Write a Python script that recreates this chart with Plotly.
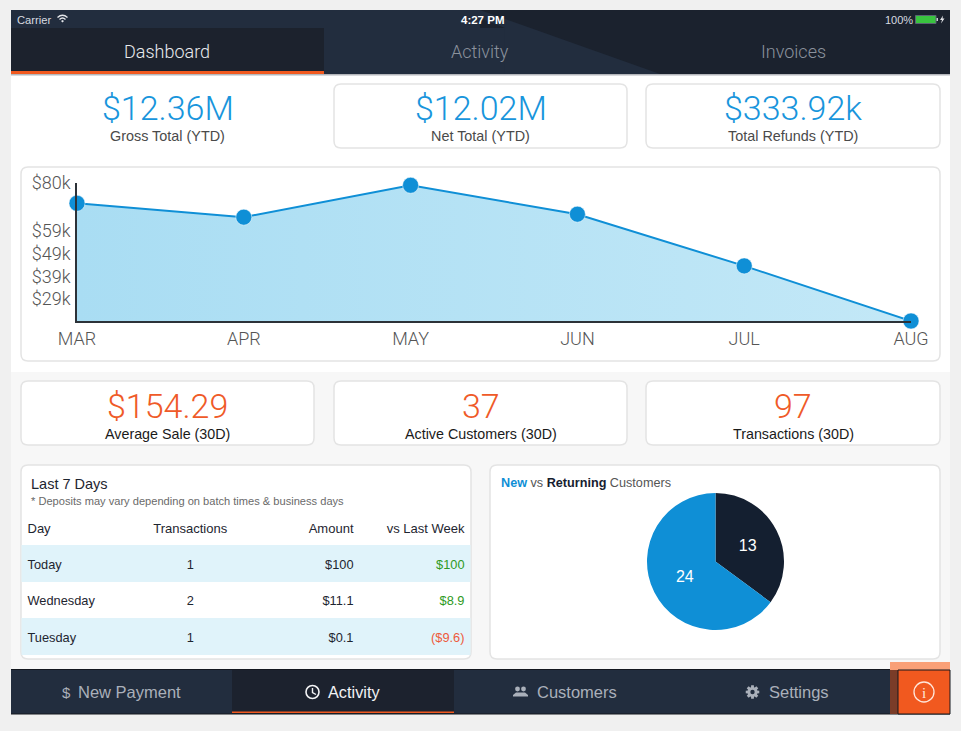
import math
import plotly.graph_objects as go

W = 961
H = 731

# area chart
months = ["MAR", "APR", "MAY", "JUN", "JUL", "AUG"]
sales_k = [71.1, 65.0, 79.0, 66.3, 43.6, 19.4]
y_ticks = [80, 59, 49, 39, 29]
y_labels = ["$80k", "$59k", "$49k", "$39k", "$29k"]

# stat cards
top_values = ["$12.36M", "$12.02M", "$333.92k"]
top_labels = ["Gross Total (YTD)", "Net Total (YTD)", "Total Refunds (YTD)"]
mid_values = ["$154.29", "37", "97"]
mid_labels = ["Average Sale (30D)", "Active Customers (30D)", "Transactions (30D)"]

# table
col_names = ["Day", "Transactions", "Amount", "vs Last Week"]
days = ["Today", "Wednesday", "Tuesday"]
transactions = ["1", "2", "1"]
amounts = ["$100", "$11.1", "$0.1"]
vs_last_week = ["$100", "$8.9", "($9.6)"]
vs_colors = ["#2e9a24", "#2e9a24", "#ee5a3c"]

# pie
pie_names = ["Returning", "New"]
pie_values = [13, 24]

LIGHT = "Roboto"
SANS = "Liberation Sans"
BLUE = "#0f8fd6"
ORANGE = "#f1591f"
NAVY = "#222d3e"
DARK = "#1b222e"
NAV_TEXT = "#aab0ba"


def px(x):
    return x / W


def py(y):
    return 1 - y / H


shapes = []
notes = []


def rect(x0, y0, x1, y1, fill, line=None, width=1):
    shapes.append(dict(type="rect", xref="paper", yref="paper", layer="below",
                       x0=px(x0), x1=px(x1), y0=py(y0), y1=py(y1), fillcolor=fill,
                       line=dict(color=line, width=width) if line else dict(width=0)))


def poly(points, fill=None, line=None, width=1, close=True, layer="above"):
    path = "M" + " L".join(f"{px(a):.5f},{py(b):.5f}" for a, b in points)
    if close:
        path += " Z"
    shapes.append(dict(type="path", xref="paper", yref="paper", layer=layer, path=path,
                       fillcolor=fill if fill else "rgba(0,0,0,0)",
                       line=dict(color=line, width=width) if line else dict(width=0)))


def circle(cx, cy, r, fill=None, line=None, width=1):
    shapes.append(dict(type="circle", xref="paper", yref="paper", x0=px(cx - r), x1=px(cx + r),
                       y0=py(cy + r), y1=py(cy - r), fillcolor=fill if fill else "rgba(0,0,0,0)",
                       line=dict(color=line, width=width) if line else dict(width=0)))


def arc(x0, x1, y_end, y_ctrl, color, width=1.4):
    mid = (x0 + x1) / 2
    p = f"M{px(x0)},{py(y_end)} Q{px(mid)},{py(y_ctrl)} {px(x1)},{py(y_end)}"
    shapes.append(dict(type="path", xref="paper", yref="paper", path=p, line=dict(color=color, width=width)))


def card(x0, y0, x1, y1, r=7, line="#e4e4e4"):
    p = (f"M{px(x0 + r)},{py(y0)} L{px(x1 - r)},{py(y0)} Q{px(x1)},{py(y0)} {px(x1)},{py(y0 + r)} "
         f"L{px(x1)},{py(y1 - r)} Q{px(x1)},{py(y1)} {px(x1 - r)},{py(y1)} "
         f"L{px(x0 + r)},{py(y1)} Q{px(x0)},{py(y1)} {px(x0)},{py(y1 - r)} "
         f"L{px(x0)},{py(y0 + r)} Q{px(x0)},{py(y0)} {px(x0 + r)},{py(y0)} Z")
    shapes.append(dict(type="path", xref="paper", yref="paper", layer="below", path=p,
                       fillcolor="white", line=dict(color=line, width=1.5)))


def text(x, y, s, size, color, family=SANS, anchor="center", weight=None):
    notes.append(dict(x=px(x), y=py(y), xref="paper", yref="paper", text=s, showarrow=False,
                      xanchor=anchor, yanchor="middle", align=anchor,
                      font=dict(size=size, color=color, family=family, weight=weight)))


# page + header background
rect(11, 75, 950, 372, "white")
rect(11, 372, 950, 669, "#f7f7f7")
rect(11, 10, 950, 75, DARK)
rect(11, 10, 480, 28, NAVY)
rect(324, 28, 505, 74, NAVY)
poly([(480, 10), (480, 18), (505, 28), (505, 74), (660, 74)], fill=NAVY, layer="below")
rect(11, 28, 324, 71, "#1c222d")
rect(11, 71, 324, 74, ORANGE)
rect(11, 74, 950, 75.5, "#b4b6bb")

# status bar
text(15, 19.5, "Carrier", 11.2, "#d8dbe0", anchor="left")
text(483, 19.5, "4:27 PM", 11.5, "#ffffff", weight=700)
text(899, 19.5, "100%", 11, "#d8dbe0")
rect(915.5, 15.5, 936, 23.5, "#39c43f", line="#5a6472", width=1)
rect(936.5, 18, 938, 21, "#c8ccd2")
poly([(943, 15.5), (940, 20), (942, 20), (941, 23.5), (944.5, 18.5), (942.5, 18.5)], fill="#e4e6ea")
arc(57.5, 67.5, 17.5, 13, "#e4e6ea")
arc(59.5, 65.5, 19.5, 16.5, "#e4e6ea")
poly([(61, 21), (62.5, 20), (64, 21), (62.5, 22.5)], fill="#e4e6ea")

# tabs
text(167, 52, "Dashboard", 18, "#e8eaee", LIGHT, weight=300)
text(480, 52, "Activity", 18, "#8b929d", LIGHT, weight=300)
text(793, 52, "Invoices", 18, "#8b929d", LIGHT, weight=300)

# stat cards
xs = [(21, 314), (334, 627), (646, 940)]
for i, (a, b) in enumerate(xs):
    if i == 0:
        card(a, 84, b, 148, line="#ffffff")
    else:
        card(a, 84, b, 148)
    text((a + b) / 2, 108, top_values[i], 34, "#1895dc", LIGHT, weight=300)
    text((a + b) / 2, 136, top_labels[i], 14.4, "#4a4a4a")
    card(a, 381, b, 445)
    text((a + b) / 2, 406, mid_values[i], 34, "#ef5a28", LIGHT, weight=300)
    text((a + b) / 2, 433.5, mid_labels[i], 14.3, "#1a1a1a")

# panels
card(21, 167, 940, 361)
card(21, 465, 471, 659)
card(490, 465, 940, 659)
text(29, 484, "Last 7 Days", 14.5, "#1e2530", anchor="left")
text(29, 501, "* Deposits may vary depending on batch times &amp; business days", 11.1, "#6a6a6a", anchor="left")
text(499, 483, "<span style='color:#0f8fd6'><b>New</b></span> vs "
     "<span style='color:#16202f'><b>Returning</b></span> Customers", 12.65, "#555555", anchor="left")
rect(21.5, 545, 470.5, 582, "#e0f3fa")
rect(21.5, 618, 470.5, 655, "#e0f3fa")

# bottom nav
rect(11, 669, 950, 670, "#14181f")
rect(11, 670, 950, 714, NAVY)
rect(232, 670, 454, 714, "#1c222e")
rect(232, 711.5, 454, 713, ORANGE)
rect(11, 713.5, 950, 714.5, "#14181f")
text(66, 692, "$", 15, NAV_TEXT)
text(129.5, 692, "New Payment", 16.5, NAV_TEXT)
text(354, 692, "Activity", 16.3, "#f2f3f5")
text(577, 692, "Customers", 16.5, NAV_TEXT)
text(798.5, 692, "Settings", 16.5, NAV_TEXT)

# gear icon
gear = []
for k in range(8):
    t = k * math.pi / 4
    for off, r in [(-0.30, 5.0), (-0.20, 6.9), (0.20, 6.9), (0.30, 5.0)]:
        gear.append((752.5 + r * math.cos(t + off), 692 + r * math.sin(t + off)))
poly(gear, fill=NAV_TEXT)
circle(752.5, 692, 2.2, fill=NAVY)

# clock icon
circle(312.5, 692, 6.5, line="#f2f3f5", width=1.6)
poly([(312.5, 688), (312.5, 692.5), (316, 694.5)], line="#f2f3f5", width=1.4, close=False)

# people icon
circle(517.5, 689, 2.4, fill=NAV_TEXT)
circle(523.5, 689, 2.4, fill=NAV_TEXT)
poly([(513, 696.5), (513, 695), (516, 692.5), (525, 692.5), (528, 695), (528, 696.5)], fill=NAV_TEXT)

# info button
rect(890, 662, 950, 670, "#f9a077")
rect(890, 670, 898, 714, "#7a3c28")
rect(898, 670, 950, 714, ORANGE, line="#14181f", width=1)
circle(924, 692, 10, line="#ffe6da", width=1.3)
text(924, 692.5, "i", 15, "#ffe6da", "Liberation Serif")

fig = go.Figure()
# area, clipped to the plot box
fig.add_trace(go.Scatter(x=months, y=sales_k, mode="none", fill="tozeroy",
                         fillgradient=dict(type="horizontal",
                                           colorscale=[[0, "#a9ddf3"], [1, "#c3e8f7"]]),
                         hoverinfo="skip", showlegend=False))
fig.add_trace(go.Scatter(x=months, y=sales_k, mode="lines+markers", cliponaxis=False, showlegend=False,
                         line=dict(color=BLUE, width=2),
                         marker=dict(color=BLUE, size=16, line=dict(color="rgba(255,255,255,0.5)", width=1))))

# text sits high in plotly table cells, so the table is moved down and the bands are shapes
fig.add_trace(go.Table(
    domain=dict(x=[px(19.5), px(472.5)], y=[py(661), py(515)]),
    columnwidth=[101, 139.5, 101.5, 111],
    header=dict(values=col_names, height=36, fill_color="rgba(0,0,0,0)", line_width=0,
                align=["left", "center", "right", "right"],
                font=dict(family=SANS, size=13, color="#1e2530")),
    cells=dict(values=[days, transactions, amounts, vs_last_week], height=36.6, line_width=0,
               fill_color="rgba(0,0,0,0)",
               align=["left", "center", "right", "right"],
               font=dict(family=SANS, size=12.8,
                         color=["#1e2530", "#1e2530", "#1e2530", vs_colors])),
))

fig.add_trace(go.Pie(labels=pie_names, values=pie_values, sort=False, direction="clockwise", rotation=0,
                     domain=dict(x=[px(647), px(784)], y=[py(630), py(493)]),
                     marker=dict(colors=["#141f30", "#0f8fd6"], line=dict(width=0)),
                     textinfo="value", textposition="inside", insidetextorientation="horizontal",
                     textfont=dict(family=SANS, size=16, color="white"),
                     showlegend=False, hoverinfo="label+value"))

fig.update_layout(
    width=W, height=H, margin=dict(l=0, r=0, t=0, b=0, autoexpand=False),
    paper_bgcolor="#f0f0f0", plot_bgcolor="rgba(0,0,0,0)",
    showlegend=False, shapes=shapes, annotations=notes,
    xaxis=dict(domain=[px(77), px(911)], range=[0, 5], type="category", categoryorder="array",
               categoryarray=months, showgrid=False, zeroline=False, showline=True, linecolor="#2c3238",
               linewidth=1.5, ticks="outside", ticklen=1, tickcolor="rgba(0,0,0,0)",
               tickfont=dict(family=LIGHT, size=18, color="#555555", weight=300)),
    yaxis=dict(domain=[py(321), py(183)], range=[19.4, 80], tickvals=y_ticks, ticktext=y_labels,
               showgrid=False, zeroline=False, showline=True, linecolor="#2c3238", linewidth=1.5,
               ticks="outside", ticklen=1, tickcolor="rgba(0,0,0,0)",
               tickfont=dict(family=LIGHT, size=18, color="#555555", weight=300)),
)

fig.write_html("out.html", config=dict(displayModeBar=False),
               post_script="document.body.style.margin='0';document.documentElement.style.overflow='hidden';")
